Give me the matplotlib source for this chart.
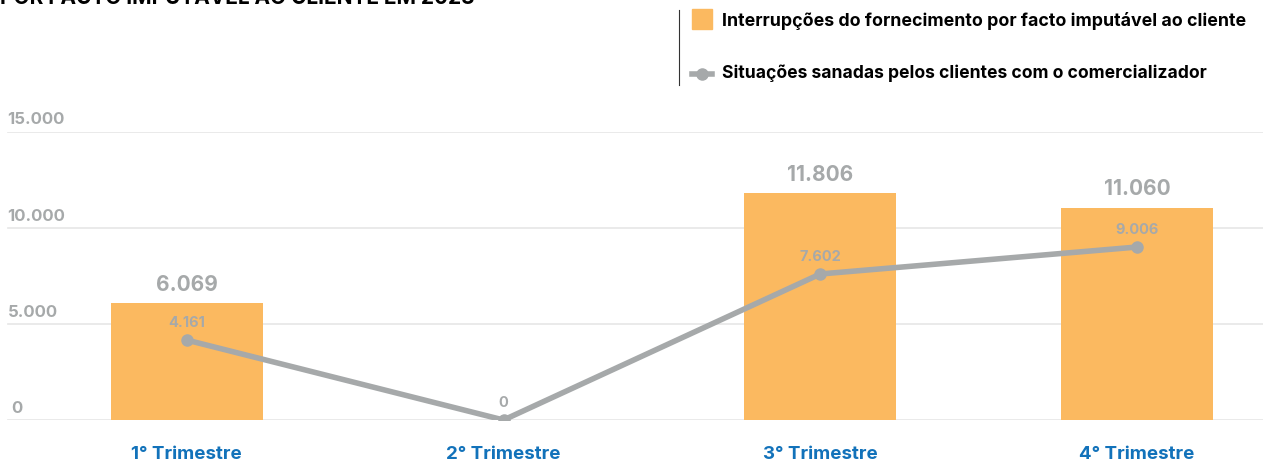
import matplotlib.pyplot as plt
from matplotlib.lines import Line2D
from matplotlib.patches import Rectangle

plt.rcParams['font.family'] = ['Inter', 'DejaVu Sans']

# data
trimestres = ["1° Trimestre", "2° Trimestre", "3° Trimestre", "4° Trimestre"]
interrupcoes = [6069, 0, 11806, 11060]
sanadas = [4161, 0, 7602, 9006]
yticks = [0, 5000, 10000, 15000]

orange = "#FBB960"
gray = "#A6A9AA"
blue = "#1272BA"

def fmt(v):
    return f"{v:,}".replace(",", ".")

fig = plt.figure(figsize=(12.63, 4.61), dpi=100)
ax = fig.add_axes([0.0, 0.0889, 1.0, 0.625])

x = list(range(len(trimestres)))
ax.bar(x, interrupcoes, width=0.48, color=orange, zorder=2)
ax.plot(x, sanadas, color=gray, lw=4, marker="o", ms=8, zorder=3)

# gridlines + tick labels sitting above them
ax.set_xlim(-0.59, 3.398)
ax.set_ylim(0, 15000)
for t in yticks:
    ax.axhline(t, xmin=0.006, color="#E6E6E6", lw=1.2, zorder=1)
    ax.text(0.006 if t else 0.009, t + 230, fmt(t), transform=ax.get_yaxis_transform(),
            color=gray, fontsize=12, fontweight="bold", ha="left", va="bottom")

# value labels
for xi, v in zip(x, interrupcoes):
    if v:
        ax.annotate(fmt(v), (xi, v), xytext=(0, 6), textcoords="offset points",
                    ha="center", va="bottom", color=gray, fontsize=15, fontweight="bold")
for xi, v in zip(x, sanadas):
    ax.annotate(fmt(v), (xi, v), xytext=(0, 7), textcoords="offset points",
                ha="center", va="bottom", color=gray, fontsize=10.5, fontweight="bold")

for s in ax.spines.values():
    s.set_visible(False)
ax.set_yticks([])
ax.set_xticks(x)
ax.set_xticklabels(trimestres, color=blue, fontsize=13.5, fontweight="bold")
ax.tick_params(axis="x", length=0, pad=19)

# clipped title at top
fig.text(0.0, 1 - 4 / 461, "POR FACTO IMPUTÁVEL AO CLIENTE EM 2023", fontsize=15,
         fontweight="bold", color="black", ha="left", va="baseline")

# legend
fig.add_artist(Line2D([679 / 1263, 679 / 1263], [1 - 10 / 461, 1 - 85 / 461],
                      color="#333333", lw=0.8))
fig.add_artist(Rectangle((692 / 1263, 1 - 29 / 461), 20 / 1263, 20 / 461,
                         color=orange, transform=fig.transFigure))
fig.add_artist(Line2D([692 / 1263, 712 / 1263], [1 - 74 / 461] * 2, color=gray, lw=4))
fig.add_artist(Line2D([702 / 1263], [1 - 74 / 461], color=gray, marker="o", ms=8, lw=0))
fig.text(722 / 1263, 1 - 21 / 461, "Interrupções do fornecimento por facto imputável ao cliente",
         fontsize=12.8, fontweight="bold", va="center", ha="left")
fig.text(722 / 1263, 1 - 73 / 461, "Situações sanadas pelos clientes com o comercializador",
         fontsize=12.6, fontweight="bold", va="center", ha="left")

fig.savefig("out.png", dpi=100)
